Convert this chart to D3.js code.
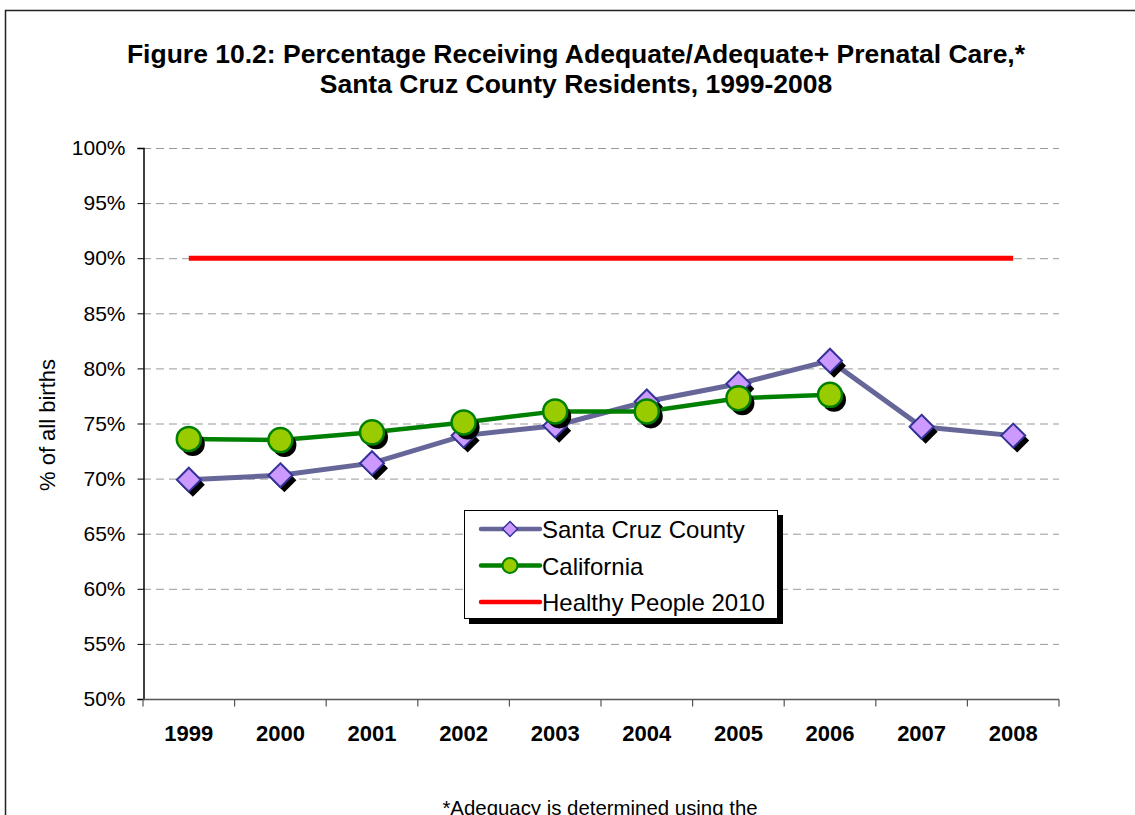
<!DOCTYPE html>
<html>
<head>
<meta charset="utf-8">
<script src="https://cdn.jsdelivr.net/npm/d3@7"></script>
<style>
  body { margin: 0; background: #fff; }
  svg { display: block; font-family: "Liberation Sans", Arial, sans-serif; }
</style>
</head>
<body>
<div id="chart"></div>
<script>
const width = 1135;
const height = 815;

const years = ["1999", "2000", "2001", "2002", "2003", "2004", "2005", "2006", "2007", "2008"];
const santaCruz = [69.9, 70.3, 71.4, 73.9, 74.8, 77.0, 78.6, 80.7, 74.7, 73.9];
const california = [73.6, 73.5, 74.2, 75.1, 76.1, 76.1, 77.3, 77.6];
const healthyPeople = [90, 90, 90, 90, 90, 90, 90, 90, 90, 90];
const yTicks = [50, 55, 60, 65, 70, 75, 80, 85, 90, 95, 100];

const margin = { left: 143, right: 1059, top: 148, bottom: 699 };

const svg = d3.select("#chart")
    .append("svg")
    .attr("width", width)
    .attr("height", height);

// outer frame
svg.append("rect")
    .attr("x", 5.5).attr("y", 10.5)
    .attr("width", width + 20).attr("height", height + 20)
    .attr("fill", "none")
    .attr("stroke", "#222")
    .attr("stroke-width", 1.5);

const x = d3.scaleBand().domain(years).range([margin.left, margin.right]);
const y = d3.scaleLinear().domain([50, 100]).range([margin.bottom, margin.top]);
const cx = d => x(d) + x.bandwidth() / 2;

// title
svg.append("text")
    .attr("x", 576).attr("y", 63)
    .attr("text-anchor", "middle")
    .attr("font-size", 26.5).attr("font-weight", "bold")
    .text("Figure 10.2: Percentage Receiving Adequate/Adequate+ Prenatal Care,*");
svg.append("text")
    .attr("x", 576).attr("y", 93)
    .attr("text-anchor", "middle")
    .attr("font-size", 26.5).attr("font-weight", "bold")
    .text("Santa Cruz County Residents, 1999-2008");

// gridlines
svg.append("g")
    .selectAll("line")
    .data(yTicks.filter(t => t > 50))
    .join("line")
    .attr("x1", margin.left).attr("x2", margin.right)
    .attr("y1", d => y(d) + 0.5).attr("y2", d => y(d) + 0.5)
    .attr("stroke", "#999")
    .attr("stroke-width", 1)
    .attr("stroke-dasharray", "8,5");

// y axis
const yAxis = svg.append("g")
    .attr("transform", `translate(${margin.left + 0.5},0)`)
    .call(d3.axisLeft(y).tickValues(yTicks).tickFormat(d => d + "%").tickSize(6).tickPadding(12));
yAxis.select(".domain").attr("stroke", "#000").attr("stroke-width", 1.5);
yAxis.selectAll(".tick line").attr("stroke", "#000");
yAxis.selectAll("text")
    .attr("font-size", 21)
    .attr("font-family", "Liberation Sans, Arial, sans-serif")
    .attr("fill", "#000");

// x axis
const xAxis = svg.append("g")
    .attr("transform", `translate(0,${margin.bottom + 0.5})`)
    .call(d3.axisBottom(x).tickSize(0).tickPadding(26));
xAxis.select(".domain").remove();
xAxis.append("line")
    .attr("x1", margin.left).attr("x2", margin.right)
    .attr("stroke", "#555").attr("stroke-width", 1.5);
xAxis.selectAll(".xtick")
    .data(d3.range(years.length + 1))
    .join("line")
    .attr("x1", i => margin.left + i * x.bandwidth())
    .attr("x2", i => margin.left + i * x.bandwidth())
    .attr("y1", 0).attr("y2", 7)
    .attr("stroke", "#555").attr("stroke-width", 1.2);
xAxis.selectAll("text")
    .attr("font-size", 22)
    .attr("font-weight", "bold")
    .attr("font-family", "Liberation Sans, Arial, sans-serif")
    .attr("fill", "#000");

// y axis title
svg.append("text")
    .attr("transform", "translate(55,425) rotate(-90)")
    .attr("text-anchor", "middle")
    .attr("font-size", 22)
    .text("% of all births");

// footnote
svg.append("text")
    .attr("x", 600).attr("y", 815)
    .attr("text-anchor", "middle")
    .attr("font-size", 20.4)
    .text("*Adequacy is determined using the");

const line = d3.line().x(d => cx(d.year)).y(d => y(d.value));
const toPts = arr => arr.map((v, i) => ({ year: years[i], value: v }));

// healthy people line
svg.append("path")
    .attr("d", line(toPts(healthyPeople)))
    .attr("fill", "none")
    .attr("stroke", "#ff0000")
    .attr("stroke-width", 5);

// Santa Cruz line
svg.append("path")
    .attr("d", line(toPts(santaCruz)))
    .attr("fill", "none")
    .attr("stroke", "#666699")
    .attr("stroke-width", 5);

// California line
svg.append("path")
    .attr("d", line(toPts(california)))
    .attr("fill", "none")
    .attr("stroke", "#008000")
    .attr("stroke-width", 4.5);

const diamond = (px, py, r) => `M${px},${py - r}L${px + r},${py}L${px},${py + r}L${px - r},${py}Z`;

// Santa Cruz markers with shadow
const sc = svg.append("g");
sc.selectAll(".shadow")
    .data(toPts(santaCruz))
    .join("path")
    .attr("class", "shadow")
    .attr("d", d => diamond(cx(d.year) + 4, y(d.value) + 5, 12))
    .attr("fill", "#000");
sc.selectAll(".mark")
    .data(toPts(santaCruz))
    .join("path")
    .attr("class", "mark")
    .attr("d", d => diamond(cx(d.year), y(d.value), 12))
    .attr("fill", "#cc99ff")
    .attr("stroke", "#333399")
    .attr("stroke-width", 2);

// California markers with shadow
const ca = svg.append("g");
ca.selectAll(".shadow")
    .data(toPts(california))
    .join("circle")
    .attr("class", "shadow")
    .attr("cx", d => cx(d.year) + 4)
    .attr("cy", d => y(d.value) + 5)
    .attr("r", 12)
    .attr("fill", "#000");
ca.selectAll(".mark")
    .data(toPts(california))
    .join("circle")
    .attr("class", "mark")
    .attr("cx", d => cx(d.year))
    .attr("cy", d => y(d.value))
    .attr("r", 12)
    .attr("fill", "#99cc00")
    .attr("stroke", "#008000")
    .attr("stroke-width", 2.5);

// legend
const legend = svg.append("g").attr("transform", "translate(464,510)");
legend.append("rect")
    .attr("x", 5).attr("y", 5).attr("width", 314).attr("height", 109)
    .attr("fill", "#000");
legend.append("rect")
    .attr("x", 0.5).attr("y", 0.5).attr("width", 313).attr("height", 108)
    .attr("fill", "#fff").attr("stroke", "#000").attr("stroke-width", 1);

const legendItems = [
    { label: "Santa Cruz County", color: "#666699", marker: "diamond" },
    { label: "California", color: "#008000", marker: "circle" },
    { label: "Healthy People 2010", color: "#ff0000", marker: null }
];
legendItems.forEach((item, i) => {
    const ly = 19 + i * 36.5;
    legend.append("line")
        .attr("x1", 17).attr("x2", 76)
        .attr("y1", ly).attr("y2", ly)
        .attr("stroke", item.color).attr("stroke-width", 4.5)
        .attr("stroke-linecap", "round");
    if (item.marker === "diamond") {
        legend.append("path")
            .attr("d", diamond(46, ly, 7.5))
            .attr("fill", "#cc99ff").attr("stroke", "#333399").attr("stroke-width", 1.5);
    } else if (item.marker === "circle") {
        legend.append("circle")
            .attr("cx", 46).attr("cy", ly).attr("r", 7.5)
            .attr("fill", "#99cc00").attr("stroke", "#008000").attr("stroke-width", 2);
    }
    legend.append("text")
        .attr("x", 78).attr("y", ly + 9)
        .attr("font-size", 24)
        .text(item.label);
});
</script>
</body>
</html>
